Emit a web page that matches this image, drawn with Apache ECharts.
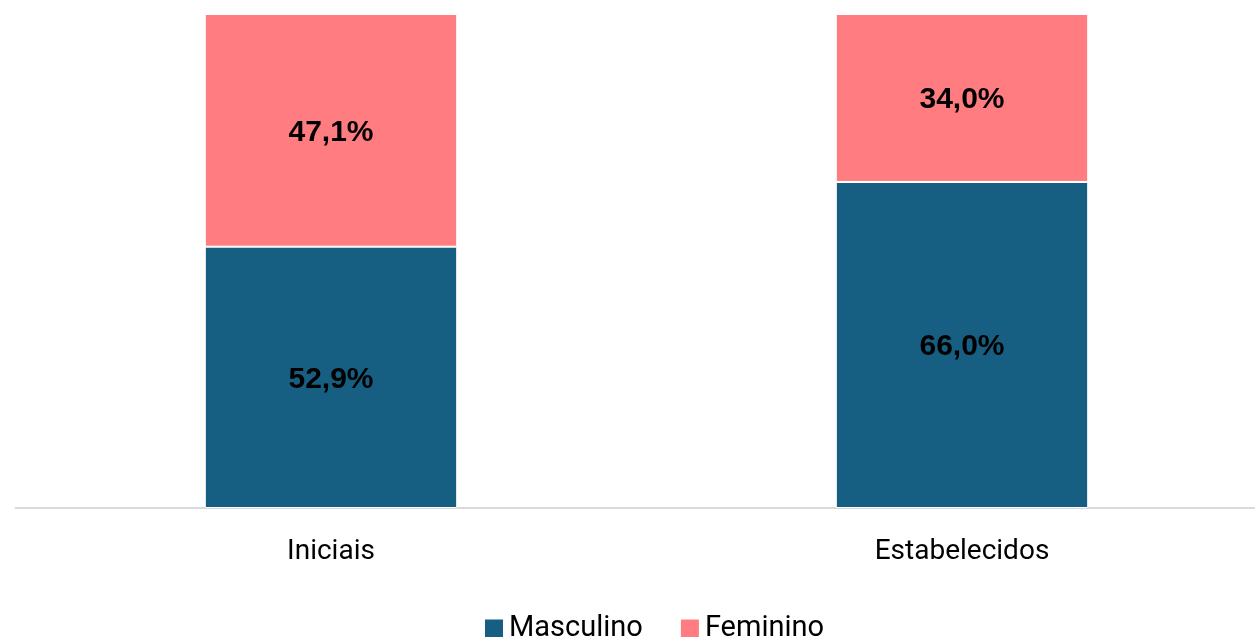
<!DOCTYPE html>
<html><head><meta charset="utf-8">
<script src="https://cdn.jsdelivr.net/npm/echarts@6/dist/echarts.min.js"></script>
<style>html,body{margin:0;padding:0;background:#fff}#c{width:1255px;height:637px}</style>
</head><body><div id="c"></div>
<script>
const categories = ['Iniciais', 'Estabelecidos'];
const masculino = [52.9, 66.0];
const feminino = [47.1, 34.0];
const seriesNames = ['Masculino', 'Feminino'];

const chart = echarts.init(document.getElementById('c'), null, {renderer: 'canvas'});
const fmt = p => p.value.toFixed(1).replace('.', ',') + '%';
const labelStyle = {show: true, position: 'inside', offset: [0, 2], formatter: fmt, fontFamily: 'Liberation Sans, Arial', fontWeight: 'bold', fontSize: 30, color: '#000'};
chart.setOption({
  animation: false,
  grid: {left: 15.5, right: -22.5, top: 14, bottom: 129, containLabel: false, outerBoundsMode: 'none'},
  legend: {
    data: seriesNames, left: 478, top: 609, itemWidth: 20, itemHeight: 20, itemGap: 36,
    icon: 'rect',
    textStyle: {fontFamily: 'Roboto', fontSize: 29, color: '#000'}
  },
  xAxis: {
    type: 'category', data: categories,
    axisLine: {lineStyle: {color: '#d9d9d9', width: 2}},
    axisTick: {show: false},
    axisLabel: {fontFamily: 'Roboto', fontSize: 28, color: '#000', margin: 30}
  },
  yAxis: {type: 'value', min: 0, max: 100, show: false, splitLine: {show: false}},
  series: [
    {name: 'Masculino', type: 'bar', stack: 'a', data: masculino, barWidth: '40%',
     itemStyle: {color: '#175F82', borderColor: '#fff', borderWidth: 1}, label: labelStyle},
    {name: 'Feminino', type: 'bar', stack: 'a', data: feminino, barWidth: '40%',
     itemStyle: {color: '#FF7C80', borderColor: '#fff', borderWidth: 1}, label: labelStyle}
  ]
});
</script></body></html>
